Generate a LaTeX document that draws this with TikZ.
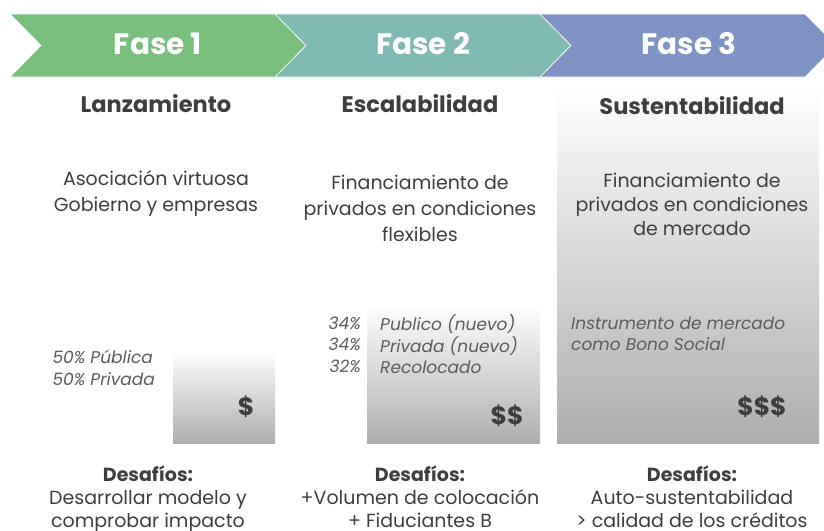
\documentclass[tikz,border=0pt]{standalone}
\usepackage{fontspec}
\setmainfont{Poppins}
\usepackage{xcolor}
\usetikzlibrary{positioning,calc}

\definecolor{faseverde}{HTML}{7BBF7F}
\definecolor{faseteal}{HTML}{80BAB3}
\definecolor{faseazul}{HTML}{7F93C4}
\definecolor{textgris}{HTML}{3E3E3E}
\definecolor{notagris}{HTML}{5C5C5C}
\definecolor{cajagris}{HTML}{AEAEAE}

\begin{document}
\begin{tikzpicture}[x=1pt, y=-1pt,
    fase/.style={font=\bfseries\fontsize{29.5}{32}\selectfont, text=white},
    titulo/.style={font=\bfseries\fontsize{22.5}{26}\selectfont, text=textgris},
    cuerpo/.style={font=\fontsize{19}{26}\selectfont, text=textgris, align=center},
    nota/.style={font=\itshape\fontsize{17}{21.5}\selectfont, text=notagris, inner sep=0pt},
    monto/.style={font=\bfseries\fontsize{25}{28}\selectfont, text=textgris},
    caja/.style={inner sep=0pt, top color=white, bottom color=cajagris, anchor=north west}]

    \useasboundingbox (0,0) rectangle (824,530);
    \clip (0,0) rectangle (824,530);

    % Chevrons
    \foreach \x/\col in {10/faseverde, 275/faseteal, 540/faseazul}
        \filldraw[fill=\col, draw=white, line width=0.6pt]
            (\x,14) -- (\x+265,14) -- (\x+296,45.5) -- (\x+265,77)
            -- (\x,77) -- (\x+31,45.5) -- cycle;

    % Gray boxes
    \node[caja, minimum width=262pt, minimum height=358pt] (caja3) at (557,85) {};
    \node[caja, minimum width=173pt, minimum height=140pt] (caja2) at (367,303) {};
    \node[caja, minimum width=102pt, minimum height=93pt] (caja1) at (173,350) {};

    % Phases
    \node[fase] (fase1) at (158,44) {Fase 1};
    \node[fase] (fase2) at (423,44) {Fase 2};
    \node[fase] (fase3) at (689,44) {Fase 3};

    \node[titulo] (lanz) at (156,104) {Lanzamiento};
    \node[titulo] (esca) at (420,104) {Escalabilidad};
    \node[titulo] (sust) at (692,106) {Sustentabilidad};

    \node[cuerpo] (asoc) at (156,193) {Asociación virtuosa\\Gobierno y empresas};
    \node[cuerpo] (flex) at (420,208) {Financiamiento de\\privados en condiciones\\flexibles};
    \node[cuerpo, font=\fontsize{19}{24}\selectfont] (merc) at (692,204) {Financiamiento de\\privados en condiciones\\de mercado};

    % Notes
    \node[nota, align=left, anchor=east] (pct1) at (155,368) {50\% Pública\\50\% Privada};
    \node[nota, align=right, anchor=east] (pct2) at (361,344.5) {34\%\\34\%\\32\%};
    \node[nota, align=left, anchor=west] (orig2) at (380,344.5) {Publico (nuevo)\\Privada (nuevo)\\Recolocado};
    \node[nota, align=left, anchor=west] (instr) at (571,334) {Instrumento de mercado\\como Bono Social};

    \node[monto] (m1) at (246,407) {\$};
    \node[monto] (m2) at (507,416) {\$\$};
    \node[monto] (m3) at (762,407) {\$\$\$};

    % Challenges
    \node[cuerpo, anchor=north] (des1) at (148,462)
        {\textbf{Desafíos:}\\[-3pt]Desarrollar modelo y\\[-3pt]comprobar impacto};
    \node[cuerpo, anchor=north] (des2) at (420,462)
        {\textbf{Desafíos:}\\[-3pt]+Volumen de colocación\\[-3pt]+ Fiduciantes B};
    \node[cuerpo, anchor=north] (des3) at (692,462)
        {\textbf{Desafíos:}\\[-3pt]Auto-sustentabilidad\\[-3pt]> calidad de los créditos};

\end{tikzpicture}
\end{document}
